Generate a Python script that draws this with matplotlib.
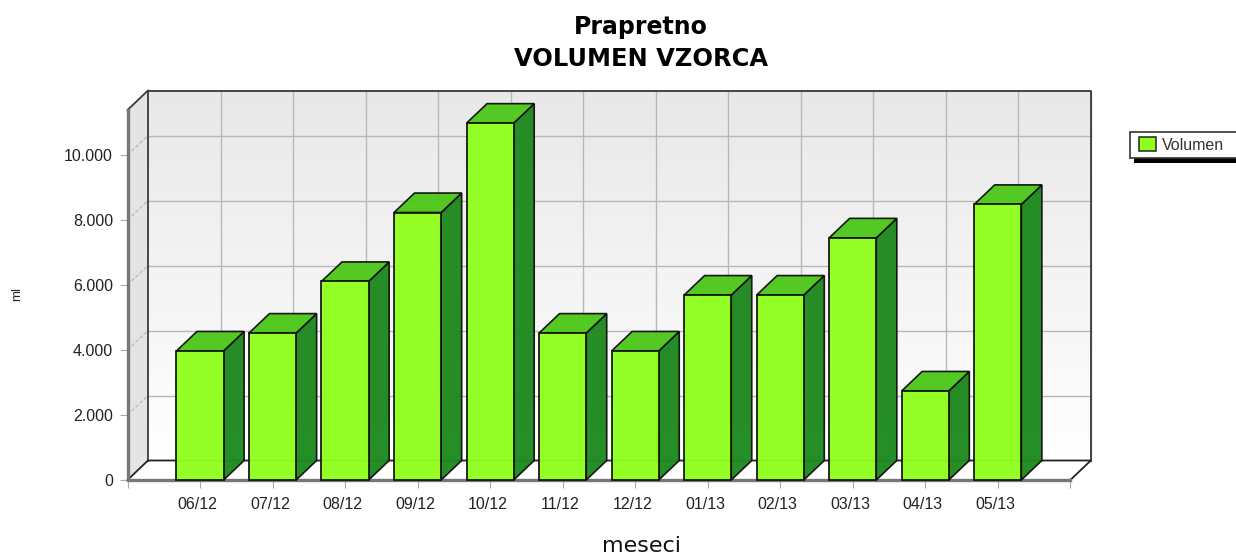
import numpy as np
import matplotlib
matplotlib.use("Agg")
import matplotlib.pyplot as plt
from matplotlib.patches import Polygon, Rectangle
from matplotlib.ticker import FuncFormatter
from matplotlib.transforms import ScaledTranslation

months = ["06/12", "07/12", "08/12", "09/12", "10/12", "11/12",
          "12/12", "01/13", "02/13", "03/13", "04/13", "05/13"]
volumen = [3970, 4520, 6110, 8230, 10980, 4520, 3970, 5690, 5690, 7450, 2740, 8480]
yticks = [0, 2000, 4000, 6000, 8000, 10000]

W, H = 1236, 559
# front plane of the 3d box, in pixels
left, right, bottom, top = 127.5, 1070.3, 480, 110
depth_x_px, depth_y_px = 20.5, 19.5

fig = plt.figure(figsize=(W / 100, H / 100), dpi=100, facecolor="white")
ax = fig.add_axes([left / W, 1 - bottom / H, (right - left) / W, (bottom - top) / H])
ax.set_xlim(0, 13)
ax.set_ylim(0, (bottom - top) / 32.5 * 1000)
ax.patch.set_visible(False)
for s in ax.spines.values():
    s.set_visible(False)

xmax, ymax = ax.get_xlim()[1], ax.get_ylim()[1]
dx = depth_x_px * xmax / (right - left)
dy = depth_y_px * ymax / (bottom - top)
edge = "#3a3a3a"

# back wall with gradient, grey on top fading to white
grad = np.linspace(0, 1, 256).reshape(-1, 1)
ax.imshow(grad, extent=(dx, xmax + dx, dy, ymax + dy), origin="upper", aspect="auto",
          cmap=matplotlib.colors.LinearSegmentedColormap.from_list("w", ["#e8e8e8", "#ffffff"]),
          vmin=0, vmax=1, zorder=1, clip_on=False)
ax.set_xlim(0, xmax)
ax.set_ylim(0, ymax)

# side wall and floor
ax.add_patch(Polygon([(0, 0), (dx, dy), (dx, ymax + dy), (0, ymax)], fc="#e4e4e4", ec="none",
                     zorder=1, clip_on=False))
ax.add_patch(Polygon([(0, 0), (xmax, 0), (xmax + dx, dy), (dx, dy)], fc="white", ec="none",
                     zorder=1, clip_on=False))

# grid on the walls
for v in yticks[1:]:
    ax.plot([dx, xmax + dx], [v + dy, v + dy], color="#b8b8b8", lw=1.0, zorder=2, clip_on=False)
    ax.plot([0, dx], [v, v + dy], color="#b8b8b8", lw=0.9, ls=(0, (3, 1.5)), zorder=2, clip_on=False)
for i in range(1, 14):
    ax.plot([i + dx, i + dx], [dy, ymax + dy], color="#b8b8b8", lw=1.0, zorder=2, clip_on=False)

# box outline
ax.plot([dx, dx, xmax + dx, xmax + dx], [dy, ymax + dy, ymax + dy, dy], color=edge, lw=1.3, zorder=3, clip_on=False)
ax.plot([0, dx, xmax + dx, xmax], [0, dy, dy, 0], color="#222222", lw=1.3, zorder=3, clip_on=False)
ax.plot([0, dx], [ymax, ymax + dy], color=edge, lw=1.3, zorder=3, clip_on=False)
ax.plot([0, 0, xmax], [ymax, 0, 0], color="#777777", lw=2.4, zorder=3, clip_on=False,
        solid_joinstyle="miter")

# bars
bw = 0.65
for i, v in enumerate(volumen):
    x0 = i + 1 - bw / 2
    x1 = i + 1 + bw / 2
    z = 5 + i
    side = [(x1, 0), (x1 + dx, dy), (x1 + dx, v + dy), (x1, v)]
    roof = [(x0, v), (x1, v), (x1 + dx, v + dy), (x0 + dx, v + dy)]
    ax.add_patch(Polygon(side, fc="#1f8a1f", ec="#111111", lw=1.2, alpha=0.97, zorder=z, clip_on=False))
    ax.add_patch(Polygon(roof, fc="#4fc81c", ec="#111111", lw=1.2, alpha=0.97, zorder=z, clip_on=False))
    ax.add_patch(Rectangle((x0, 0), bw, v, fc="#90ff1e", ec="#111111", lw=1.3, alpha=0.96, zorder=z + 0.5, clip_on=False))

ax.set_xticks(range(0, 14))
ax.set_xticklabels([""] + months + [""], family="Liberation Sans", fontsize=11.5, color="#222222")
ax.set_yticks(yticks)
ax.yaxis.set_major_formatter(FuncFormatter(lambda v, p: f"{int(v):,}".replace(",", ".")))
ax.tick_params(axis="x", length=6, color="#aaaaaa", pad=6)
ax.tick_params(axis="y", length=6, color="#aaaaaa", pad=4.5, labelsize=11.5, labelcolor="#222222")
for t in ax.get_yticklabels():
    t.set_family("Liberation Sans")
# x labels sit a little left of their ticks
shift = ScaledTranslation(-2.5 / 100, 0, fig.dpi_scale_trans)
for t in ax.get_xticklabels():
    t.set_transform(t.get_transform() + shift)


def fx(px):
    return px / W


def fy(py):
    return 1 - py / H


fig.text(fx(641), fy(27), "Prapretno", ha="center", va="center",
         family="DejaVu Sans", fontweight="bold", fontsize=17, color="black")
fig.text(fx(641), fy(59), "VOLUMEN VZORCA", ha="center", va="center",
         family="DejaVu Sans", fontweight="bold", fontsize=17.4, color="black")
fig.text(fx(642), fy(546), "meseci", ha="center", va="center", family="DejaVu Sans", fontsize=16, color="#111111")
fig.text(fx(17), fy(294), "ml", ha="center", va="center", rotation=90, family="Liberation Sans",
         fontsize=9.5, color="#222222")

# legend, runs off the right edge like the original
fig.add_artist(Rectangle((fx(1134), fy(163)), 110 / W, 26 / H, transform=fig.transFigure, fc="black", ec="none", clip_on=False))
fig.add_artist(Rectangle((fx(1130), fy(158)), 110 / W, 26 / H, transform=fig.transFigure, fc="white", ec="#333333", lw=1.2))
fig.add_artist(Rectangle((fx(1139), fy(151)), 17 / W, 14 / H, transform=fig.transFigure, fc="#90ff1e", ec="#222222", lw=1.1))
fig.text(fx(1162), fy(146), "Volumen", ha="left", va="center", family="Liberation Sans", fontsize=11.5, color="#333333")

fig.savefig("out.png", dpi=100)
